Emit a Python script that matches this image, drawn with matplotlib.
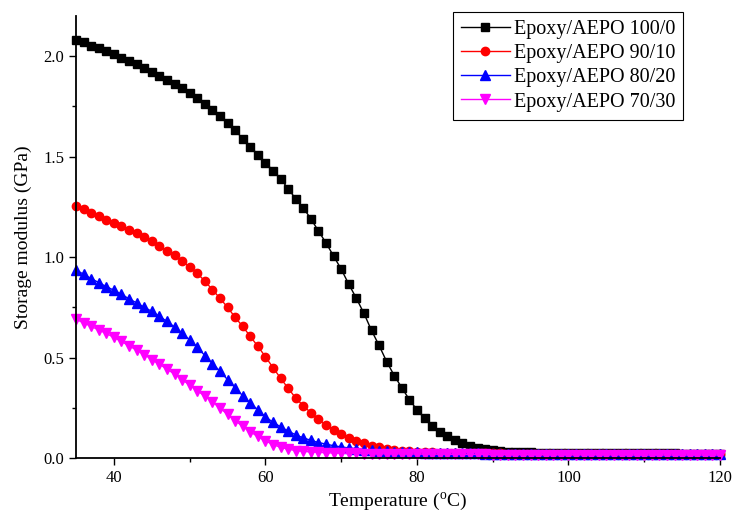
import numpy as np
import matplotlib
matplotlib.use("Agg")
import matplotlib.pyplot as plt
from matplotlib.ticker import MultipleLocator

plt.rcParams["font.family"] = ["Liberation Serif", "DejaVu Serif"]
plt.rcParams["mathtext.fontset"] = "custom"
plt.rcParams["mathtext.rm"] = "Liberation Serif"

# temperature, one reading per degree from 35 to 120 C
temperature = list(range(35, 121))

modulus_100_0 = [
	2.080, 2.070, 2.050, 2.040, 2.025, 2.010, 1.990, 1.975, 1.960, 1.940,
	1.920, 1.900, 1.880, 1.860, 1.840, 1.815, 1.790, 1.760, 1.730, 1.700,
	1.665, 1.630, 1.590, 1.550, 1.510, 1.470, 1.430, 1.390, 1.340, 1.290,
	1.245, 1.190, 1.130, 1.070, 1.005, 0.940, 0.865, 0.795, 0.720, 0.635,
	0.560, 0.480, 0.410, 0.350, 0.290, 0.240, 0.197, 0.160, 0.130, 0.108,
	0.090, 0.074, 0.062, 0.052, 0.045, 0.039, 0.035, 0.032, 0.030, 0.029,
	0.028, 0.027, 0.027, 0.026, 0.026, 0.026, 0.025, 0.025, 0.025, 0.025,
	0.024, 0.024, 0.024, 0.024, 0.024, 0.023, 0.023, 0.023, 0.023, 0.023,
	0.022, 0.022, 0.022, 0.022, 0.022, 0.022,
]

modulus_90_10 = [
	1.255, 1.240, 1.220, 1.205, 1.185, 1.170, 1.155, 1.135, 1.120, 1.100,
	1.078, 1.055, 1.030, 1.008, 0.980, 0.950, 0.920, 0.880, 0.838, 0.795,
	0.750, 0.700, 0.655, 0.605, 0.556, 0.504, 0.450, 0.397, 0.347, 0.298,
	0.260, 0.225, 0.192, 0.164, 0.140, 0.118, 0.100, 0.086, 0.073, 0.062,
	0.053, 0.046, 0.041, 0.037, 0.034, 0.031, 0.029, 0.028, 0.027, 0.026,
	0.025, 0.024, 0.024, 0.024, 0.023, 0.023, 0.023, 0.022, 0.022, 0.022,
	0.022, 0.022, 0.021, 0.021, 0.021, 0.021, 0.021, 0.021, 0.020, 0.020,
	0.020, 0.020, 0.020, 0.020, 0.020, 0.020, 0.019, 0.019, 0.019, 0.019,
	0.019, 0.019, 0.019, 0.019, 0.019, 0.019,
]

modulus_80_20 = [
	0.935, 0.915, 0.893, 0.873, 0.853, 0.835, 0.815, 0.792, 0.772, 0.750,
	0.730, 0.705, 0.680, 0.652, 0.622, 0.588, 0.552, 0.510, 0.470, 0.432,
	0.390, 0.350, 0.310, 0.273, 0.240, 0.205, 0.178, 0.155, 0.134, 0.115,
	0.100, 0.088, 0.077, 0.069, 0.061, 0.055, 0.050, 0.046, 0.042, 0.039,
	0.036, 0.034, 0.032, 0.030, 0.029, 0.028, 0.027, 0.026, 0.025, 0.025,
	0.024, 0.024, 0.023, 0.023, 0.022, 0.022, 0.022, 0.021, 0.021, 0.021,
	0.021, 0.020, 0.020, 0.020, 0.020, 0.020, 0.019, 0.019, 0.019, 0.019,
	0.019, 0.019, 0.018, 0.018, 0.018, 0.018, 0.018, 0.018, 0.018, 0.018,
	0.018, 0.018, 0.018, 0.018, 0.018, 0.018,
]

modulus_70_30 = [
	0.690, 0.673, 0.655, 0.637, 0.620, 0.600, 0.580, 0.558, 0.537, 0.515,
	0.490, 0.467, 0.442, 0.418, 0.390, 0.363, 0.335, 0.308, 0.280, 0.248,
	0.217, 0.186, 0.157, 0.130, 0.107, 0.085, 0.067, 0.053, 0.044, 0.037,
	0.033, 0.030, 0.028, 0.026, 0.025, 0.024, 0.023, 0.023, 0.022, 0.022,
	0.021, 0.021, 0.021, 0.020, 0.020, 0.020, 0.019, 0.019, 0.019, 0.019,
	0.018, 0.018, 0.018, 0.018, 0.018, 0.017, 0.017, 0.017, 0.017, 0.017,
	0.017, 0.017, 0.016, 0.016, 0.016, 0.016, 0.016, 0.016, 0.016, 0.016,
	0.016, 0.016, 0.016, 0.015, 0.015, 0.015, 0.015, 0.015, 0.015, 0.015,
	0.015, 0.015, 0.015, 0.015, 0.015, 0.015,
]

series = [
	("Epoxy/AEPO 100/0", modulus_100_0, "black", "s", 5.5),
	("Epoxy/AEPO 90/10", modulus_90_10, "red", "o", 6.0),
	("Epoxy/AEPO 80/20", modulus_80_20, "blue", "^", 6.5),
	("Epoxy/AEPO 70/30", modulus_70_30, "magenta", "v", 6.5),
]

fig = plt.figure(figsize=(7.33, 5.15), dpi=100)
ax = fig.add_axes([0.1037, 0.1107, 0.8786, 0.8583])

for label, values, color, marker, size in series:
	ax.plot(temperature, values, color=color, marker=marker, markersize=size,
		linewidth=1.0, label=label, clip_on=False)

ax.set_xlim(35, 120)
ax.set_ylim(0, 2.2)
ax.xaxis.set_major_locator(MultipleLocator(20))
ax.xaxis.set_minor_locator(MultipleLocator(10))
ax.yaxis.set_major_locator(MultipleLocator(0.5))
ax.yaxis.set_minor_locator(MultipleLocator(0.25))
ax.yaxis.set_major_formatter(matplotlib.ticker.FormatStrFormatter("%.1f"))

for side in ["top", "right"]:
	ax.spines[side].set_visible(False)
for side in ["left", "bottom"]:
	ax.spines[side].set_linewidth(1.3)

ax.tick_params(which="major", direction="out", length=5, width=1.0, labelsize=12)
ax.tick_params(which="minor", direction="out", length=3, width=1.0)

ax.set_xlabel(r"Temperature ($\mathregular{^{o}}$C)", fontsize=14, labelpad=4)
ax.set_ylabel("Storage modulus (GPa)", fontsize=14, labelpad=8)

leg = ax.legend(loc="upper right", bbox_to_anchor=(0.9425, 1.009), borderaxespad=0,
	fontsize=14.5, numpoints=1, handlelength=2.4, handletextpad=0.2,
	labelspacing=0.25, fancybox=False, framealpha=1, edgecolor="black",
	borderpad=0.4)
leg.get_frame().set_linewidth(0.8)

fig.savefig("out.png", dpi=100)
